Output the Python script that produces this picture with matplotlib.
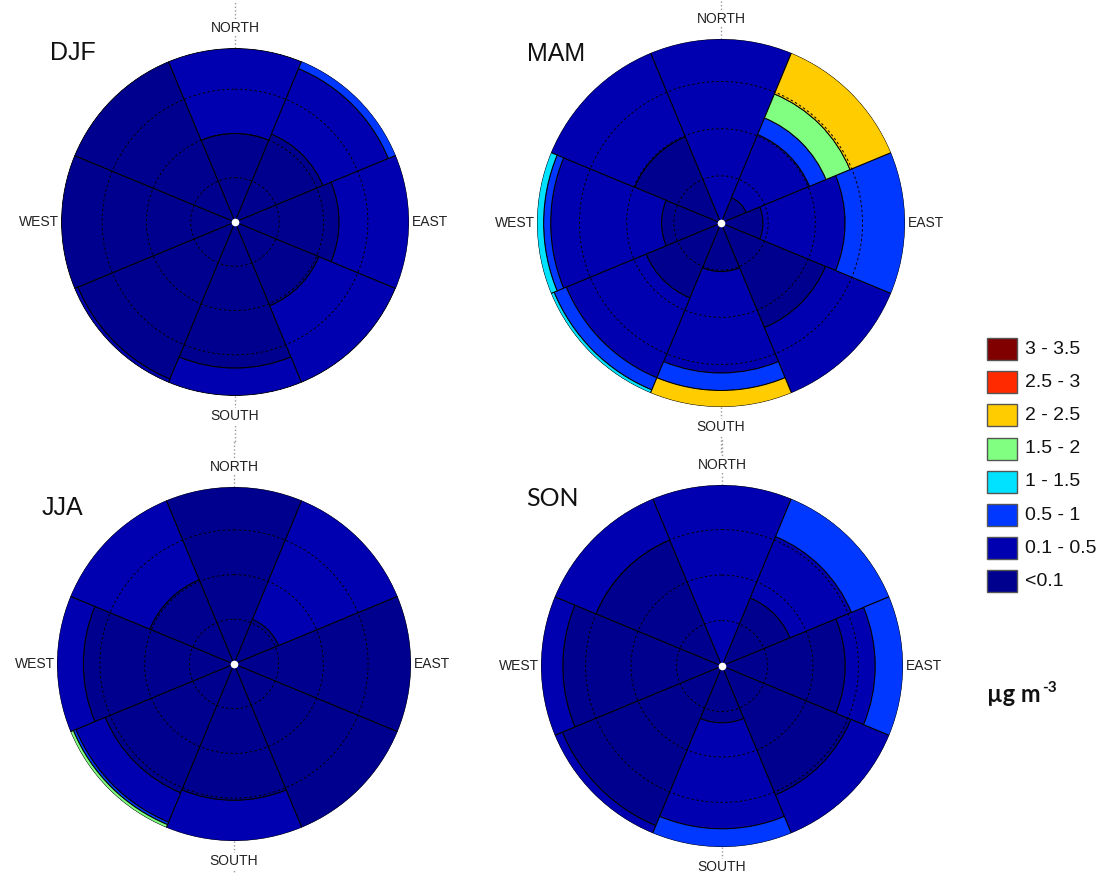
import numpy as np
import matplotlib
matplotlib.use('Agg')
import matplotlib.pyplot as plt
from matplotlib.patches import Rectangle
from matplotlib.lines import Line2D

plt.rcParams['font.family'] = ['Liberation Sans', 'DejaVu Sans']

# concentration classes (ug m-3) and their colours, low -> high
classes = ['<0.1', '0.1 - 0.5', '0.5 - 1', '1 - 1.5', '1.5 - 2', '2 - 2.5', '2.5 - 3', '3 - 3.5']
colors = ['#00008e', '#0000b0', '#0038ff', '#00e2ff', '#80ff80', '#ffcc00', '#ff2a00', '#800000']

directions = ['N', 'NE', 'E', 'SE', 'S', 'SW', 'W', 'NW']

# radial extent of each class per sector (rows: directions, cols: classes)
djf = [
    [2.00, 1.92, 0.00, 0, 0, 0, 0, 0],
    [2.15, 1.60, 0.18, 0, 0, 0, 0, 0],
    [2.35, 1.58, 0.00, 0, 0, 0, 0, 0],
    [2.05, 1.87, 0.00, 0, 0, 0, 0, 0],
    [3.30, 0.62, 0.00, 0, 0, 0, 0, 0],
    [3.84, 0.08, 0.00, 0, 0, 0, 0, 0],
    [3.92, 0.00, 0.00, 0, 0, 0, 0, 0],
    [3.92, 0.00, 0.00, 0, 0, 0, 0, 0],
]
mam = [
    [0.00, 3.90, 0.00, 0.00, 0.00, 0.00, 0, 0],
    [0.58, 1.45, 0.38, 0.00, 0.55, 0.94, 0, 0],
    [0.89, 1.74, 1.27, 0.00, 0.00, 0.00, 0, 0],
    [2.40, 1.50, 0.00, 0.00, 0.00, 0.00, 0, 0],
    [1.03, 2.15, 0.37, 0.00, 0.00, 0.35, 0, 0],
    [1.72, 1.83, 0.28, 0.07, 0.00, 0.00, 0, 0],
    [1.26, 2.35, 0.15, 0.14, 0.00, 0.00, 0, 0],
    [1.98, 1.92, 0.00, 0.00, 0.00, 0.00, 0, 0],
]
jja = [
    [3.96, 0.00, 0.00, 0, 0.00, 0, 0, 0],
    [1.08, 2.88, 0.00, 0, 0.00, 0, 0, 0],
    [3.96, 0.00, 0.00, 0, 0.00, 0, 0, 0],
    [3.96, 0.00, 0.00, 0, 0.00, 0, 0, 0],
    [3.05, 0.91, 0.00, 0, 0.00, 0, 0, 0],
    [3.12, 0.71, 0.06, 0, 0.07, 0, 0, 0],
    [3.37, 0.59, 0.00, 0, 0.00, 0, 0, 0],
    [2.04, 1.92, 0.00, 0, 0.00, 0, 0, 0],
]
son = [
    [0.00, 3.98, 0.00, 0, 0, 0, 0, 0],
    [1.62, 1.46, 0.90, 0, 0, 0, 0, 0],
    [2.71, 0.66, 0.61, 0, 0, 0, 0, 0],
    [3.07, 0.91, 0.00, 0, 0, 0, 0, 0],
    [1.25, 2.33, 0.40, 0, 0, 0, 0, 0],
    [3.80, 0.18, 0.00, 0, 0, 0, 0, 0],
    [3.50, 0.48, 0.00, 0, 0, 0, 0, 0],
    [3.00, 0.98, 0.00, 0, 0, 0, 0, 0],
]
rings = [1, 2, 3]

W, H = 1099, 873
fig = plt.figure(figsize=(W / 100, H / 100), dpi=100)

def fx(x):
    return x / W

def fy(y):
    return 1 - y / H

# name, data, centre x, centre y, radius (px), season label position, label font
panels = [
    ('DJF', djf, 235, 222, 174, (50, 53), 'Liberation Sans'),
    ('MAM', mam, 721, 223, 184, (527, 54), 'Liberation Sans'),
    ('JJA', jja, 234, 664, 177, (42, 508), 'Liberation Sans'),
    ('SON', son, 722, 666, 181, (526, 498), 'Lato'),
]

theta = np.deg2rad(np.arange(8) * 45)

for name, data, cx, cy, R, (tx, ty), tfont in panels:
    ax = fig.add_axes([fx(cx - R), fy(cy + R), 2 * R / W, 2 * R / H], projection='polar')
    ax.set_theta_zero_location('N')
    ax.set_theta_direction(-1)
    vals = np.array(data)
    bottom = np.zeros(8)
    for k in range(len(classes)):
        h = vals[:, k]
        m = h > 0
        if m.any():
            ax.bar(theta[m], h[m], width=np.pi / 4, bottom=bottom[m], color=colors[k],
                   edgecolor='black', linewidth=0.7, zorder=2)
        bottom += h
    rmax = vals.sum(axis=1).max()
    tt = np.linspace(0, 2 * np.pi, 500)
    for r in rings:
        ax.plot(tt, np.full_like(tt, r), color='black', ls=(0, (2.5, 2.5)), lw=0.7, zorder=3)
    ax.plot([0], [0], 'o', color='white', ms=4.5, zorder=5)
    ax.set_ylim(0, rmax)
    ax.set_xticks([])
    ax.set_yticks([])
    ax.grid(False)
    ax.spines['polar'].set_visible(False)
    ax.patch.set_alpha(0)

    # compass ticks and labels
    for y0, y1 in [(cy - R, cy - R - 46), (cy + R, cy + R + 46)]:
        fig.add_artist(Line2D([fx(cx), fx(cx)], [fy(y0), fy(y1)], color='#999999',
                              ls=':', lw=1, zorder=0))
    lab = dict(fontsize=10, color='#222222', zorder=4,
               bbox=dict(facecolor='white', edgecolor='none', pad=1))
    fig.text(fx(cx), fy(cy - R - 20), 'NORTH', ha='center', va='center', **lab)
    fig.text(fx(cx), fy(cy + R + 20), 'SOUTH', ha='center', va='center', **lab)
    fig.text(fx(cx - R - 2), fy(cy), 'WEST', ha='right', va='center', **lab)
    fig.text(fx(cx + R + 3), fy(cy), 'EAST', ha='left', va='center', **lab)

    fig.text(fx(tx), fy(ty), name, ha='left', va='center', fontsize=18,
             family=[tfont, 'DejaVu Sans'], color='#111111')

# legend
for i, k in enumerate(range(len(classes) - 1, -1, -1)):
    yc = 349 + 33.2 * i
    fig.add_artist(Rectangle((fx(987), fy(yc + 11)), 30 / W, 22 / H, facecolor=colors[k],
                             edgecolor='#555555', lw=1, transform=fig.transFigure))
    fig.text(fx(1025), fy(yc), classes[k], ha='left', va='center', fontsize=14,
             color='#111111')

unit = fig.text(fx(987), fy(695), 'µg m', ha='left', va='center', fontsize=17,
                family=['Lato', 'DejaVu Sans'], fontweight='bold', color='#111111')
fig.canvas.draw()
bb = unit.get_window_extent()
fig.text(bb.x1 / W + 0.001, fy(688), '-3', ha='left', va='center', fontsize=11,
         family=['Lato', 'DejaVu Sans'], fontweight='bold', color='#111111')

fig.savefig('out.png', dpi=100)
